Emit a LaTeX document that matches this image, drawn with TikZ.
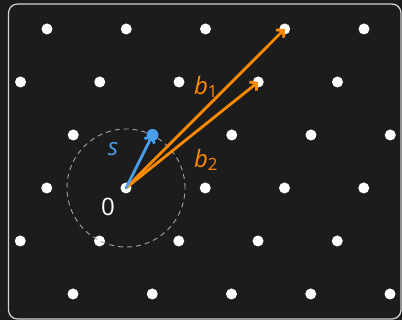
\documentclass[tikz,border=0pt]{standalone}
\usepackage{fontspec}
\setmainfont{Open Sans}
\usetikzlibrary{arrows.meta, positioning, calc}
\definecolor{bgdark}{HTML}{1C1C1C}
\definecolor{vecorange}{HTML}{FF8A00}
\definecolor{vecblue}{HTML}{4A9EED}
\definecolor{ringgray}{HTML}{A0A4AC}
\definecolor{framegray}{HTML}{D4D4D4}

\begin{document}
\begin{tikzpicture}[x=1pt, y=1pt, >={Straight Barb[length=5pt, width=11pt]},
    dot/.style={circle, fill=white, minimum size=11pt, inner sep=0pt},
    tipdot/.style={circle, fill=vecblue, minimum size=12pt, inner sep=0pt},
    vec/.style={->, line width=2.8pt, line cap=round},
    lbl/.style={font=\fontsize{24}{28}\selectfont}]
    % fond sombre et cadre arrondi
    \fill[bgdark] (0,0) rectangle (402,320);
    \useasboundingbox (0,0) rectangle (402,320);
    \draw[framegray, line width=1.2pt, rounded corners=9pt] (8.5,1) rectangle (401,316);

    % points du réseau (coupés au bord du cadre)
    \begin{scope}
        \clip (8.5,1) rectangle (401,316);
        \foreach \j in {-2,...,3}
            \foreach \i in {-3,...,4}
                \node[dot] (p\i\j) at ($(126,132)+\i*(79.25,0)+\j*(26.5,53)$) {};
    \end{scope}

    % cercle en pointillés autour de l'origine
    \draw[ringgray, dash pattern=on 5pt off 4pt, line width=0.9pt] (p00.center) circle[radius=59];

    % point court s
    \node[tipdot] (S) at (p01) {};

    % vecteurs de base et vecteur court
    \draw[vec, vecorange] (p00.center) -- (p13.center);
    \draw[vec, vecorange] (p00.center) -- (p12.center);
    \draw[vec, vecblue] (p00.center) -- (S.center);

    % étiquettes
    \node[lbl, white] (zero) at (108,113) {0};
    \node[lbl, vecblue, font=\fontsize{24}{28}\selectfont\itshape] (slbl) at (113,171) {s};
    \node[lbl, vecorange] (blabel1) at (206,233) {\textit{b}\textsubscript{1}};
    \node[lbl, vecorange] (blabel2) at (206,160) {\textit{b}\textsubscript{2}};
\end{tikzpicture}
\end{document}
